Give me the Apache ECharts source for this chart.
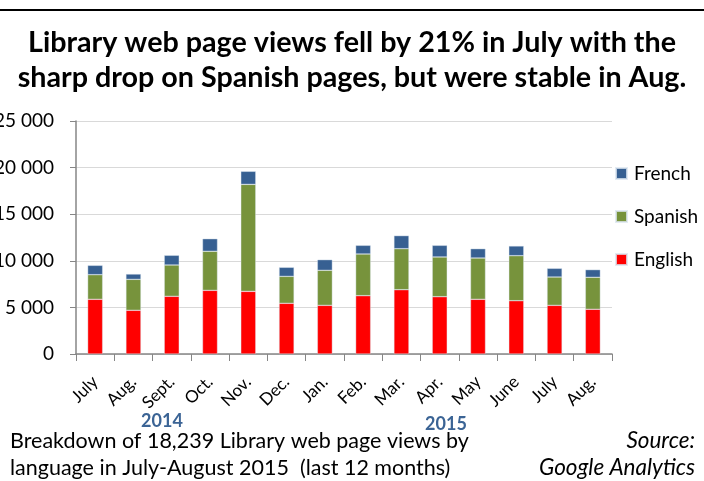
<!DOCTYPE html>
<html>
<head>
<meta charset="utf-8">
<script src="https://cdn.jsdelivr.net/npm/echarts@6/dist/echarts.min.js"></script>
<style>
  html, body { margin: 0; padding: 0; background: #fff; }
  #chart { width: 704px; height: 481px; }
</style>
</head>
<body>
<div id="chart"></div>
<script>
  // months, July 2014 - August 2015
  var months = ['July', 'Aug.', 'Sept.', 'Oct.', 'Nov.', 'Dec.', 'Jan.', 'Feb.', 'Mar.', 'Apr.', 'May', 'June', 'July', 'Aug.'];
  var english = [5870, 4690, 6190, 6830, 6720, 5440, 5220, 6260, 6900, 6150, 5870, 5720, 5220, 4800];
  var spanish = [2640, 3320, 3360, 4190, 11480, 2890, 3760, 4470, 4400, 4260, 4430, 4830, 3040, 3430];
  var french = [1000, 570, 1040, 1350, 1400, 970, 1140, 930, 1400, 1250, 1000, 1040, 930, 820];
  var yTicks = [0, 5000, 10000, 15000, 20000, 25000];

  var font = 'Lato, "Open Sans", sans-serif';
  var chart = echarts.init(document.getElementById('chart'));

  function bar(name, data, color) {
    return {
      name: name,
      type: 'bar',
      stack: 'views',
      data: data,
      barWidth: 15,
      itemStyle: { color: color, borderColor: 'rgba(220,230,240,0.8)', borderWidth: 0.5 }
    };
  }

  function txt(s, x, y, opts) {
    return {
      type: 'text', x: x, y: y,
      style: Object.assign({ text: s, font: '21.5px ' + font, fill: '#000', textVerticalAlign: 'middle' }, opts || {})
    };
  }

  var option = {
    animation: false,
    textStyle: { fontFamily: font },
    title: {
      text: 'Library web page views fell by 21% in July with the\nsharp drop on Spanish pages, but were stable in Aug.',
      left: 'center',
      top: 25,
      padding: 0,
      textStyle: { fontSize: 28.7, fontWeight: 'bold', color: '#000', lineHeight: 35, fontFamily: font }
    },
    legend: {
      orient: 'vertical',
      left: 615,
      top: 164,
      padding: 0,
      itemWidth: 11,
      itemHeight: 11,
      itemGap: 24,
      icon: 'rect',
      data: ['French', 'Spanish', 'English'],
      textStyle: { fontSize: 19, color: '#000', fontFamily: font, padding: [0, 0, 0, 2] }
    },
    grid: { left: 76, right: 92, top: 121, bottom: 127, containLabel: false, outerBoundsMode: 'none' },
    xAxis: {
      type: 'category',
      data: months,
      axisLine: { lineStyle: { color: '#868686', width: 1.5 } },
      axisTick: { show: true, length: 7, lineStyle: { color: '#868686' } },
      axisLabel: { rotate: 45, interval: 0, fontSize: 17, color: '#000', margin: 25, fontFamily: font }
    },
    yAxis: {
      type: 'value',
      min: yTicks[0],
      max: yTicks[yTicks.length - 1],
      interval: 5000,
      axisLine: { show: true, lineStyle: { color: '#868686', width: 1.5 } },
      axisTick: { show: true, length: 6, lineStyle: { color: '#868686' } },
      splitLine: { lineStyle: { color: '#d9d9d9', width: 1.2 } },
      axisLabel: {
        fontSize: 19, color: '#000', margin: 22, fontFamily: font,
        formatter: function (v) { return v === 0 ? '0' : String(v).replace(/(\d)(?=(\d{3})+$)/g, '$1 '); }
      }
    },
    graphic: [
      { type: 'line', shape: { x1: 0, y1: 10, x2: 704, y2: 10 }, style: { stroke: '#000', lineWidth: 2 } },
      txt('2014', 162, 421, { font: 'bold 18px ' + font, fill: '#3B6495', textAlign: 'center' }),
      txt('2015', 446, 424, { font: 'bold 18px ' + font, fill: '#3B6495', textAlign: 'center' }),
      txt('Breakdown of 18,239 Library web page views by', 10, 441),
      txt('language in July-August 2015  (last 12 months)', 10, 468),
      txt('Source:', 695, 441, { font: 'italic 22.5px ' + font, textAlign: 'right' }),
      txt('Google Analytics', 695, 468, { font: 'italic 22.5px ' + font, textAlign: 'right' })
    ],
    series: [
      bar('English', english, '#ff0000'),
      bar('Spanish', spanish, '#77933c'),
      bar('French', french, '#376092')
    ]
  };

  chart.setOption(option);
</script>
</body>
</html>
